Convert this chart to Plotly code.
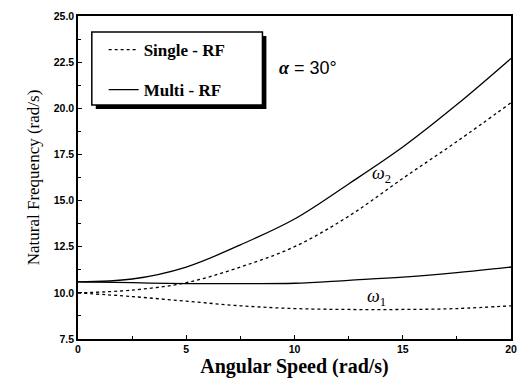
import plotly.graph_objects as go

speed = [0, 2.5, 5, 7.5, 10, 12.5, 15, 17.5, 20]
single_w1 = [10.0, 9.8, 9.55, 9.3, 9.15, 9.1, 9.1, 9.15, 9.3]
single_w2 = [10.0, 10.15, 10.55, 11.4, 12.5, 14.15, 16.2, 18.2, 20.3]
multi_w1 = [10.6, 10.55, 10.5, 10.5, 10.52, 10.68, 10.85, 11.1, 11.4]
multi_w2 = [10.6, 10.75, 11.4, 12.6, 14.0, 15.9, 17.9, 20.2, 22.7]
y_ticks = [7.5, 10.0, 12.5, 15.0, 17.5, 20.0, 22.5, 25.0]
x_ticks = [0, 5, 10, 15, 20]

SERIF = "Liberation Serif, Times New Roman, DejaVu Serif, serif"

dash_style = dict(color="black", width=1.3, dash="3px,3px")
solid_style = dict(color="black", width=1.3)

fig = go.Figure()
fig.add_trace(go.Scatter(x=speed, y=single_w2, mode="lines", line=dash_style,
                         line_shape="spline", name="<b>Single - RF</b>", legendgroup="s"))
fig.add_trace(go.Scatter(x=speed, y=single_w1, mode="lines", line=dash_style,
                         line_shape="spline", name="<b>Single - RF</b>", legendgroup="s", showlegend=False))
fig.add_trace(go.Scatter(x=speed, y=multi_w2, mode="lines", line=solid_style,
                         line_shape="spline", name="<b>Multi - RF</b>", legendgroup="m"))
fig.add_trace(go.Scatter(x=speed, y=multi_w1, mode="lines", line=solid_style,
                         line_shape="spline", name="<b>Multi - RF</b>", legendgroup="m", showlegend=False))

tickfont = dict(family="Liberation Sans", size=10.5, color="black")

fig.update_xaxes(range=[0, 20], tickvals=x_ticks, ticktext=[f"<b>{v}</b>" for v in x_ticks],
                 ticks="inside", ticklen=4, tickcolor="black",
                 minor=dict(ticks="inside", ticklen=3, dtick=2.5, tickcolor="black"),
                 showline=True, linecolor="black", linewidth=1.5, mirror=True,
                 showgrid=False, zeroline=False, tickfont=tickfont,
                 title=dict(text="<b>Angular Speed (rad/s)</b>",
                            font=dict(family=SERIF, size=20, color="black"),
                            standoff=4))
fig.update_yaxes(range=[7.5, 25], tickvals=y_ticks, ticktext=[f"<b>{v:.1f}</b>" for v in y_ticks],
                 ticks="inside", ticklen=4, tickcolor="black",
                 minor=dict(ticks="inside", ticklen=3, dtick=1.25, tickcolor="black"),
                 showline=True, linecolor="black", linewidth=1.5, mirror=True,
                 showgrid=False, zeroline=False, tickfont=tickfont,
                 title=dict(text="Natural Frequency (rad/s)",
                            font=dict(family=SERIF, size=17, color="black"),
                            standoff=10))

def px(xp):
    return (xp - 78) / 439

def py(yp):
    return (339 - yp) / 323

shapes = [
    dict(type="rect", xref="paper", yref="paper", x0=px(96), x1=px(269), y0=py(109), y1=py(36),
         fillcolor="black", line=dict(width=0), layer="above"),
    dict(type="rect", xref="paper", yref="paper", x0=px(92), x1=px(265), y0=py(105), y1=py(32),
         fillcolor="white", line=dict(color="black", width=1.5), layer="above"),
]

annotations = [
    dict(x=px(311), y=py(68), xref="paper", yref="paper", showarrow=False,
         xanchor="center", yanchor="middle",
         text="<span style='font-family:Liberation Serif'><b><i>α</i></b></span> = 30°",
         font=dict(family="Liberation Sans", size=18, color="black")),
    dict(x=14.0, y=16.4, showarrow=False,
         text="<i>ω</i><sub>2</sub>", font=dict(family=SERIF, size=18, color="black")),
    dict(x=13.8, y=9.75, showarrow=False,
         text="<i>ω</i><sub>1</sub>", font=dict(family=SERIF, size=18, color="black")),
]

fig.update_layout(
    width=524, height=386,
    margin=dict(l=78, r=7, t=16, b=47),
    paper_bgcolor="white", plot_bgcolor="white",
    shapes=shapes, annotations=annotations,
    showlegend=True,
    legend=dict(x=px(104), y=py(32), xanchor="left", yanchor="top",
                bgcolor="rgba(0,0,0,0)", borderwidth=0, tracegroupgap=15,
                font=dict(family=SERIF, size=17, color="black")),
)

fig.write_html("out.html")
